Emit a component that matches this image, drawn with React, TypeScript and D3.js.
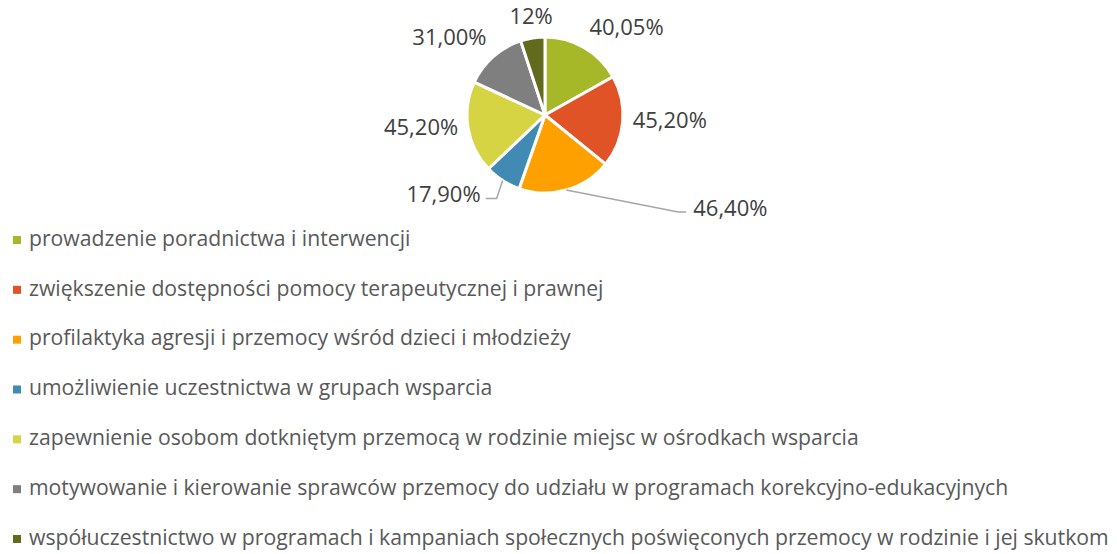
import React from "react";
import * as d3 from "d3";

const categories = [
  "prowadzenie poradnictwa i interwencji",
  "zwiększenie dostępności pomocy terapeutycznej i prawnej",
  "profilaktyka agresji i przemocy wśród dzieci i młodzieży",
  "umożliwienie uczestnictwa w grupach wsparcia",
  "zapewnienie osobom dotkniętym przemocą w rodzinie miejsc w ośrodkach wsparcia",
  "motywowanie i kierowanie sprawców przemocy do udziału w programach korekcyjno-edukacyjnych",
  "współuczestnictwo w programach i kampaniach społecznych poświęconych przemocy w rodzinie i jej skutkom",
];
const values = [40.05, 45.2, 46.4, 17.9, 45.2, 31.0, 12];
const valueLabels = ["40,05%", "45,20%", "46,40%", "17,90%", "45,20%", "31,00%", "12%"];
const colors = ["#a6b727", "#df5327", "#fea000", "#418ab3", "#d7d444", "#7f7f7f", "#626b1d"];

// layout config (label nudges for leader-line labels), not data
const leader = [null, null, { dx: 112, dy: 22, tail: 8 }, { dx: -6, dy: 18, tail: -11 }, null, null, null];

const W = 1117;
const H = 554;
const cx = 545;
const cy = 115;
const R = 78;
const FONT = "'Open Sans', 'Noto Sans', sans-serif";

export default function App() {
  const pie = d3.pie<number>().sort(null).value((d) => d)(values);
  const arc = d3.arc<d3.PieArcDatum<number>>().innerRadius(0).outerRadius(R);

  const legendY = d3.scalePoint<number>().domain(d3.range(categories.length)).range([240, 539]);

  return (
    <svg width={W} height={H} style={{ position: "absolute", left: 0, top: 0, fontFamily: FONT }}>
      <rect width={W} height={H} fill="#fff" />
      <g transform={`translate(${cx},${cy})`}>
        {pie.map((p, i) => (
          <path key={i} d={arc(p) || ""} fill={colors[i]} stroke="#fff" strokeWidth={3} strokeLinejoin="round" />
        ))}
      </g>
      {pie.map((p, i) => {
        const mid = (p.startAngle + p.endAngle) / 2;
        const s = Math.sin(mid);
        const c = Math.cos(mid);
        const L = leader[i];
        if (L) {
          const x0 = cx + R * s;
          const y0 = cy - R * c;
          const x1 = x0 + L.dx;
          const y1 = y0 + L.dy;
          const x2 = x1 + L.tail;
          const right = L.tail > 0;
          return (
            <g key={i}>
              <polyline points={`${x0},${y0} ${x1},${y1} ${x2},${y1}`} fill="none" stroke="#a6a6a6" strokeWidth={1.5} />
              <text x={right ? x2 + 7 : x2 - 5} y={y1 - 2} textAnchor={right ? "start" : "end"} dominantBaseline="middle" fontSize={22} fill="#404040">
                {valueLabels[i]}
              </text>
            </g>
          );
        }
        const r = R + 10;
        const x = cx + r * s;
        const y = cy - r * c;
        const anchor = Math.abs(s) < 0.3 ? "middle" : s > 0 ? "start" : "end";
        const baseline = c > 0.3 ? "auto" : c < -0.3 ? "hanging" : "middle";
        return (
          <text key={i} x={x} y={baseline === "auto" ? y - 4 : y} textAnchor={anchor} dominantBaseline={baseline === "middle" ? "middle" : baseline === "hanging" ? "hanging" : "auto"} fontSize={22} fill="#404040">
            {valueLabels[i]}
          </text>
        );
      })}
      {categories.map((cat, i) => (
        <g key={i} transform={`translate(0,${legendY(i)})`}>
          <rect x={13} y={-4} width={8} height={8} fill={colors[i]} />
          <text x={29} y={0} dominantBaseline="middle" fontSize={21.2} fill="#595959">
            {cat}
          </text>
        </g>
      ))}
    </svg>
  );
}
